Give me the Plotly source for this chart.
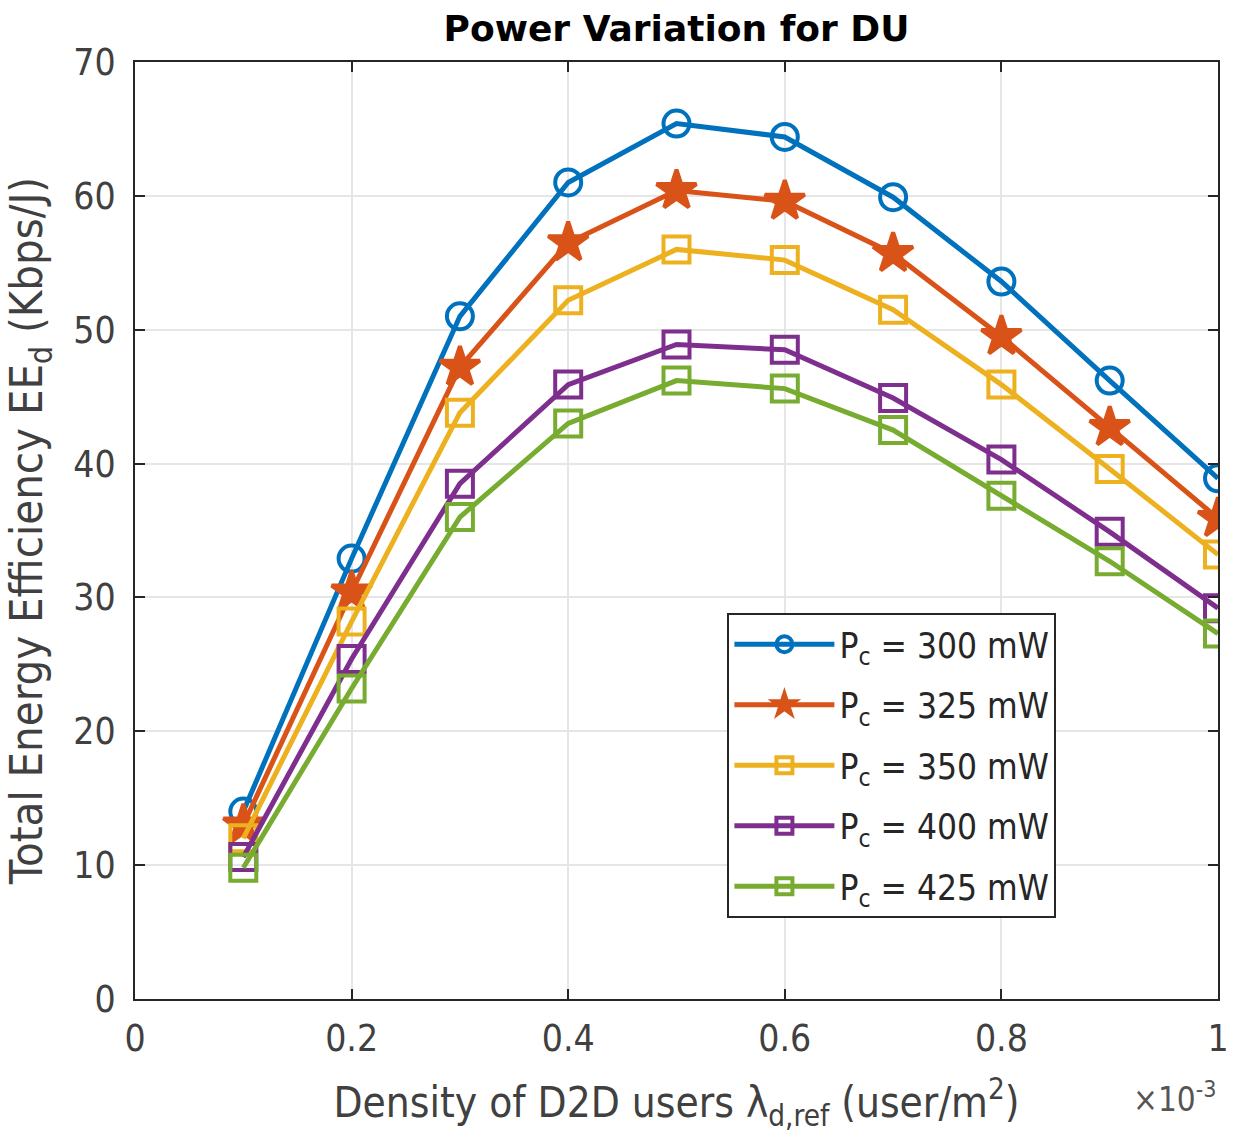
import plotly.graph_objects as go

# Density of D2D users (x 10^-3 user/m^2)
density = [0.1, 0.2, 0.3, 0.4, 0.5, 0.6, 0.7, 0.8, 0.9, 1.0]

ee_300 = [14.0, 32.9, 51.0, 61.0, 65.4, 64.4, 59.9, 53.6, 46.2, 38.9]
ee_325 = [13.0, 30.4, 47.2, 56.5, 60.4, 59.6, 55.7, 49.5, 42.7, 35.9]
ee_350 = [12.0, 28.2, 43.8, 52.2, 56.0, 55.2, 51.5, 45.9, 39.6, 33.2]
ee_400 = [10.6, 25.4, 38.5, 45.9, 48.9, 48.5, 44.9, 40.3, 34.9, 29.2]
ee_425 = [9.8, 23.2, 36.0, 43.0, 46.2, 45.6, 42.5, 37.6, 32.7, 27.3]

series_names = ["P<sub>c</sub> = 300 mW", "P<sub>c</sub> = 325 mW", "P<sub>c</sub> = 350 mW",
                "P<sub>c</sub> = 400 mW", "P<sub>c</sub> = 425 mW"]
series_values = [ee_300, ee_325, ee_350, ee_400, ee_425]
colors = ["#0072BD", "#D95319", "#EDB120", "#7E2F8E", "#77AC30"]
symbols = ["circle-open", "star", "square-open", "square-open", "square-open"]

x_ticks = [0, 0.2, 0.4, 0.6, 0.8, 1]
x_tick_labels = ["0", "0.2", "0.4", "0.6", "0.8", "1"]
y_ticks = [0, 10, 20, 30, 40, 50, 60, 70]

fig = go.Figure()
for i, (name, vals, col, sym) in enumerate(zip(series_names, series_values, colors, symbols)):
    fig.add_trace(go.Scatter(
        x=density, y=vals, name=name, mode="lines+markers",
        line=dict(color=col, width=5),
        marker=dict(symbol=sym, size=26 if sym != "star" else 30, color=col,
                    line=dict(color=col, width=4)),
        legendgroup=f"g{i}",
    ))

font_family = "DejaVu Sans Condensed, Liberation Sans Narrow, DejaVu Sans"
axis_color = "#262626"
text_color = "#404040"

fig.update_layout(
    width=1248, height=1140,
    margin=dict(l=135, r=30, t=62, b=141),
    paper_bgcolor="white", plot_bgcolor="white",
    font=dict(family=font_family, size=36, color=text_color),
    title=dict(text="<b>Power Variation for DU</b>", x=0.5, xref="paper", xanchor="center",
               y=0.975, yanchor="middle",
               font=dict(size=36, color="black", family="DejaVu Sans")),
    legend=dict(x=0.547, y=0.412, xanchor="left", yanchor="top",
                bordercolor=axis_color, borderwidth=2, bgcolor="white",
                font=dict(size=35, color="#262626"), itemwidth=100,
                tracegroupgap=12, traceorder="grouped"),
    showlegend=True,
)
fig.update_xaxes(
    range=[0, 1], tickvals=x_ticks, ticktext=x_tick_labels,
    showgrid=True, gridcolor="#e6e6e6", gridwidth=2,
    showline=True, linecolor=axis_color, linewidth=2, mirror="ticks",
    ticks="inside", ticklen=10, tickcolor=axis_color, tickwidth=2,
    tickfont=dict(size=37, color=text_color), zeroline=False, ticklabelstandoff=6,
    title=dict(text="Density of D2D users λ<sub>d,ref</sub> (user/m<sup>2</sup>)",
               font=dict(size=42, color=text_color), standoff=28),
)
fig.update_yaxes(
    range=[0, 70], tickvals=y_ticks,
    showgrid=True, gridcolor="#e6e6e6", gridwidth=2,
    showline=True, linecolor=axis_color, linewidth=2, mirror="ticks",
    ticks="inside", ticklen=10, tickcolor=axis_color, tickwidth=2,
    tickfont=dict(size=37, color=text_color), zeroline=False, ticklabelstandoff=10,
    title=dict(text="Total Energy Efficiency EE<sub>d</sub> (Kbps/J)",
               font=dict(size=45, color=text_color), standoff=16),
)
fig.add_annotation(text="×10<sup>-3</sup>", xref="paper", yref="paper",
                   x=1.0, y=-0.08, xanchor="right", yanchor="top", showarrow=False,
                   font=dict(size=33, color="#555555", family=font_family))

fig.write_html("out.html")
